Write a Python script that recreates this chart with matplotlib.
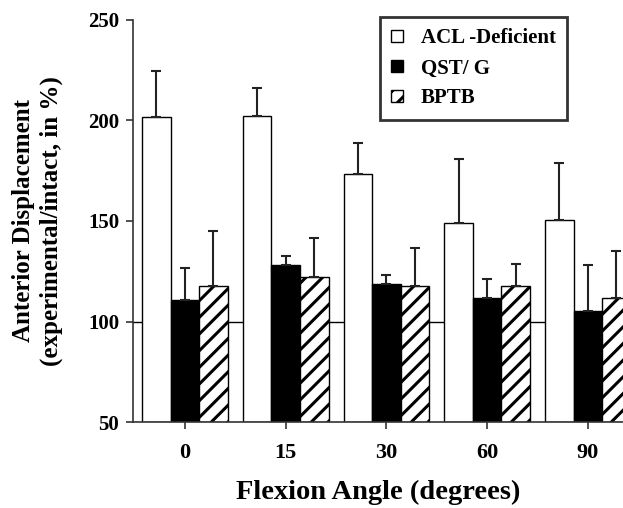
import matplotlib
matplotlib.use('Agg')

import numpy as np
import matplotlib.pyplot as plt
from matplotlib.patches import Patch

plt.rcParams['font.family'] = ['Liberation Serif', 'DejaVu Serif']
plt.rcParams['font.weight'] = 'bold'
plt.rcParams['hatch.linewidth'] = 2.2

# --- data ---
angles = ['0', '15', '30', '60', '90']
series_names = ['ACL -Deficient', 'QST/ G', 'BPTB']
acl_mean = [201.7, 202.0, 173.4, 149.2, 150.5]
acl_err = [23.0, 14.0, 15.2, 31.5, 28.5]
qst_mean = [110.7, 128.1, 118.7, 111.8, 105.2]
qst_err = [15.8, 4.5, 4.4, 9.3, 22.9]
bptb_mean = [117.7, 122.3, 117.7, 117.7, 111.8]
bptb_err = [27.5, 19.1, 18.7, 10.9, 23.4]

fig = plt.figure(figsize=(6.23, 5.08), dpi=100)
# axes runs past the right edge of the figure, like the cropped original
ax = fig.add_axes([133 / 623, 86 / 508, 515 / 623, 402 / 508])

x = np.arange(len(angles))
w = 0.283

ax.axhline(100, color='black', lw=1.0, zorder=1)

styles = [
    dict(color='white', hatch=None),
    dict(color='black', hatch=None),
    dict(color='white', hatch='//'),
]
means = [acl_mean, qst_mean, bptb_mean]
errs = [acl_err, qst_err, bptb_err]
for i in range(3):
    pos = x + (i - 1) * w
    ax.bar(pos, np.array(means[i]) - 50, bottom=50, width=w,
           color=styles[i]['color'], hatch=styles[i]['hatch'],
           edgecolor='black', linewidth=1.0, zorder=2)
    ax.errorbar(pos, means[i], yerr=[np.zeros(len(angles)), errs[i]],
                fmt='none', ecolor='#222222', elinewidth=1.5, capsize=3.5,
                capthick=1.5, zorder=3)

ax.set_ylim(50, 250)
ax.set_xlim(-0.516, -0.516 + 515 / 100.75)
ax.set_yticks([50, 100, 150, 200, 250])
ax.set_xticks(x)
ax.set_xticklabels(angles)

for s in ['top', 'right']:
    ax.spines[s].set_visible(False)
for s in ['left', 'bottom']:
    ax.spines[s].set_linewidth(1.2)
    ax.spines[s].set_color('#333333')
ax.tick_params(axis='both', length=5, width=1.2, color='#333333',
               direction='out')
ax.tick_params(axis='y', labelsize=15, pad=5)
ax.tick_params(axis='x', labelsize=16, pad=10)

fig.text(24 / 623, 1 - 221 / 508, 'Anterior Displacement',
         rotation=90, ha='center', va='center', fontsize=18)
fig.text(51 / 623, 1 - 221 / 508, '(experimental/intact, in %)',
         rotation=90, ha='center', va='center', fontsize=18)
fig.text(378 / 623, 1 - 492 / 508, 'Flexion Angle (degrees)',
         ha='center', va='center', fontsize=20.5)

handles = [
    Patch(facecolor='white', edgecolor='black', linewidth=1.0),
    Patch(facecolor='black', edgecolor='black', linewidth=1.0),
    Patch(facecolor='white', edgecolor='black', hatch='//', linewidth=1.0),
]
leg = fig.legend(handles, series_names, loc='upper left',
                 bbox_to_anchor=(380 / 623, 1 - 17 / 508),
                 fontsize=15, frameon=True, fancybox=False,
                 handlelength=0.55, handleheight=0.55, handletextpad=0.85,
                 labelspacing=0.48, borderpad=0.55, borderaxespad=0)
leg.get_frame().set_edgecolor('black')
leg.get_frame().set_linewidth(2.0)

fig.savefig('out.png', dpi=100)
